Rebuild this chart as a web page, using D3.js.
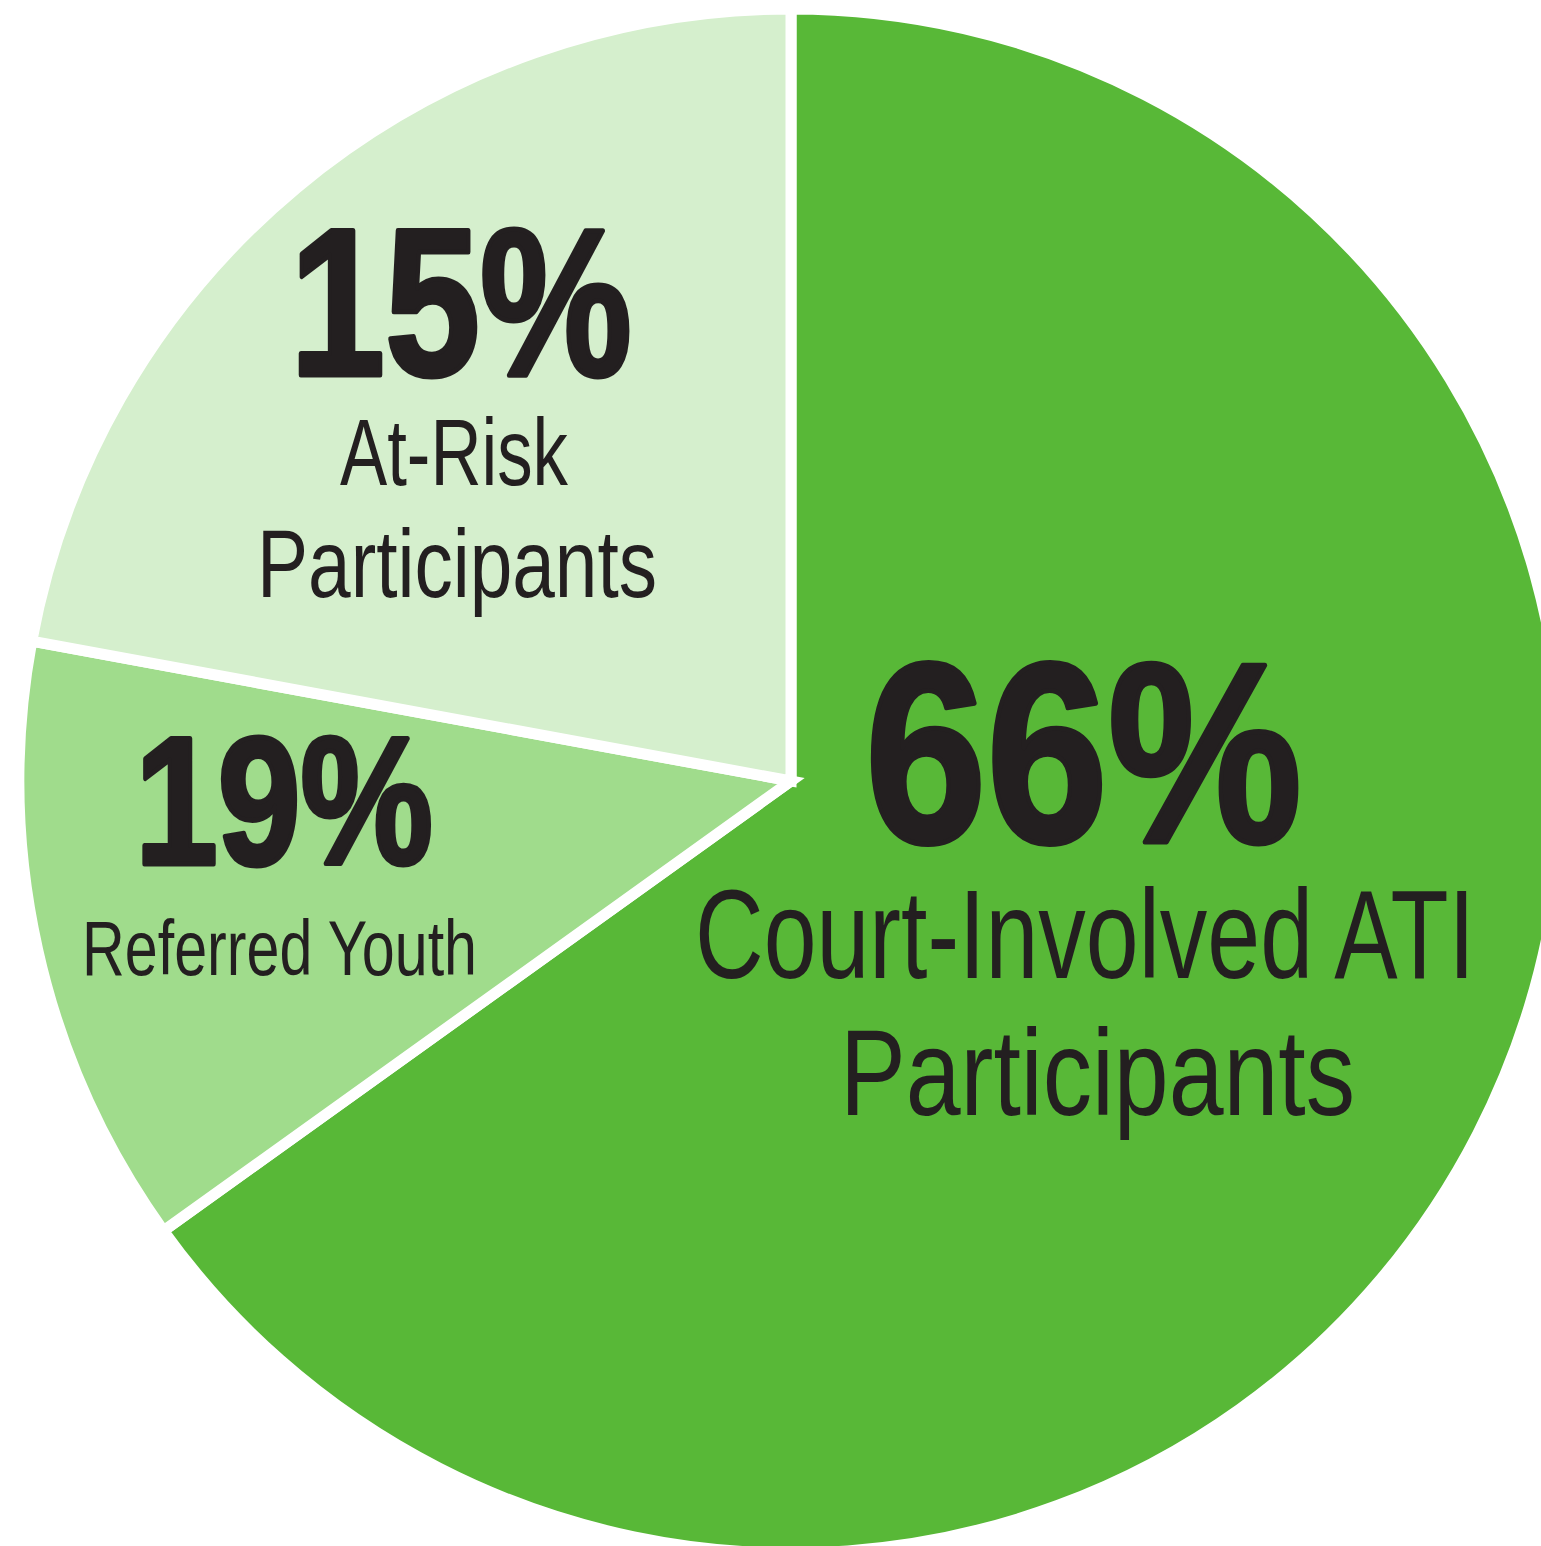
<!DOCTYPE html>
<html>
<head>
<meta charset="utf-8">
<script src="https://cdn.jsdelivr.net/npm/d3@7"></script>
<style>
  body { margin: 0; background: #fff; }
</style>
</head>
<body>
<div class="chart"></div>
<script>
// slices in drawing order, clockwise from 12 o'clock
const categories = ["Court-Involved ATI Participants", "Referred Youth", "At-Risk Participants"];
const percentLabels = ["66%", "19%", "15%"];
// slice sizes as they are drawn in the picture (the artwork is not to scale)
const drawnShares = [65.1, 12.8, 22.1];
const nameLines = [["Court-Involved ATI", "Participants"], ["Referred Youth"], ["At-Risk", "Participants"]];

const width = 1541, height = 1546;
const cx = 791, cy = 781, radius = 772;
const colors = ["#58b837", "#a0dc8c", "#d5efcd"];
const ink = "#231f20";

const svg = d3.select(".chart")
  .append("svg")
  .attr("width", width)
  .attr("height", height);

const pie = d3.pie().sort(null).value(d => d);
const arc = d3.arc().innerRadius(0).outerRadius(radius);

// slices
svg.append("g")
  .attr("transform", `translate(${cx},${cy})`)
  .selectAll("path")
  .data(pie(drawnShares))
  .join("path")
    .attr("d", arc)
    .attr("fill", (d, i) => colors[i])
    .attr("stroke", "#fff")
    .attr("stroke-width", 11)
    .attr("stroke-linejoin", "miter");

// label layout: [big number box, name line boxes]
// each box: left x, baseline y, width, font size
const numBoxes = [
  [865, 842, 437, 257],
  [135, 864, 298, 182],
  [290, 375, 342, 210]
];
const nameBoxes = [
  [[695, 978, 780, 126], [840, 1115, 515, 123]],
  [[82, 975, 395, 77]],
  [[340, 485, 228, 95], [257, 597, 400, 96]]
];

const labels = svg.append("g");

categories.forEach((cat, i) => {
  const [x, y, w, fs] = numBoxes[i];
  labels.append("text")
    .attr("x", x)
    .attr("y", y)
    .attr("textLength", w)
    .attr("lengthAdjust", "spacingAndGlyphs")
    .style("font-family", "'Liberation Sans Narrow', 'Liberation Sans', sans-serif")
    .style("font-weight", "bold")
    .style("font-size", fs + "px")
    .attr("fill", ink)
    .attr("stroke", ink)
    .attr("stroke-width", 5)
    .attr("stroke-linejoin", "round")
    .text(percentLabels[i]);

  nameLines[i].forEach((line, j) => {
    const [lx, ly, lw, lfs] = nameBoxes[i][j];
    labels.append("text")
      .attr("x", lx)
      .attr("y", ly)
      .attr("textLength", lw)
      .attr("lengthAdjust", "spacingAndGlyphs")
      .style("font-family", "'Liberation Sans Narrow', 'Liberation Sans', sans-serif")
      .style("font-size", lfs + "px")
      .attr("fill", ink)
      .text(line);
  });
});
</script>
</body>
</html>
